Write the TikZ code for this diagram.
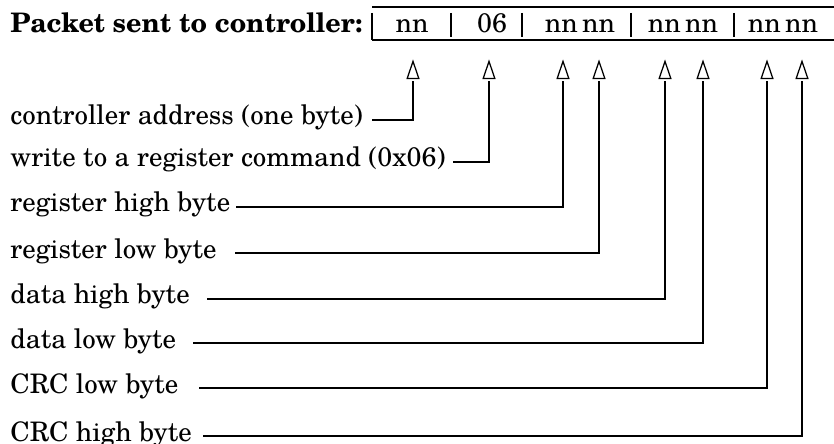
\documentclass[tikz,border=0pt]{standalone}
\usepackage{fontspec}
\setmainfont{TeX Gyre Schola}
\usetikzlibrary{positioning,shapes.geometric}

\begin{document}
\begin{tikzpicture}[
		x=0.48pt, y=-0.48pt,
		lab/.style={anchor=base west, inner sep=0pt, font=\fontsize{12.9}{15}\selectfont},
		fld/.style={anchor=base, inner sep=0pt, font=\fontsize{12.9}{15}\selectfont},
		tip/.style={isosceles triangle, isosceles triangle stretches, shape border rotate=90, draw, line width=0.6pt, inner sep=0pt, outer sep=1.2pt, minimum width=5.6pt, minimum height=8.2pt, anchor=south},
		rule/.style={line width=1.2pt},
		sep/.style={line width=0.6pt},
		lead/.style={line width=0.5pt}
		]
		\useasboundingbox (0,0) rectangle (834,444);
		
		% --------------------------------------------------------------------
		% packet (top)
		% --------------------------------------------------------------------
		\node[lab, font=\fontsize{12.9}{15}\selectfont\bfseries] (title) at (10,33) {Packet sent to controller:};
		
		\draw[rule] (372,7) -- (834,7);
		\draw[rule] (372,40) -- (834,40);
		\draw[sep] (372,13) -- (372,40);
		\draw[sep] (451,13) -- (451,37);
		\draw[sep] (522,13) -- (522,37);
		\draw[sep] (631,13) -- (631,37);
		\draw[sep] (734,13) -- (734,37);
		
		\node[fld] (addr) at (412,33) {nn};
		\node[fld] (cmd) at (492,33) {06};
		\node[fld] (reg) at (580,33) {nn\,nn};
		\node[fld] (dat) at (683,33) {nn\,nn};
		\node[fld] (crc) at (783,33) {nn\,nn};
		
		% markers under the bytes
		\node[tip] (T1) at (413,81) {};
		\node[tip] (T2) at (489,81) {};
		\node[tip] (T3) at (563,81) {};
		\node[tip] (T4) at (599,81) {};
		\node[tip] (T5) at (665,81) {};
		\node[tip] (T6) at (703,81) {};
		\node[tip] (T7) at (767,81) {};
		\node[tip] (T8) at (802,81) {};
		
		% --------------------------------------------------------------------
		% descriptions (bottom)
		% --------------------------------------------------------------------
		\node[lab] (L1) at (10,125) {controller address (one byte)};
		\node[lab] (L2) at (10,167) {write to a register command (0x06)};
		\node[lab] (L3) at (10,212) {register high byte};
		\node[lab] (L4) at (10,258) {register low byte};
		\node[lab] (L5) at (10,304) {data high byte};
		\node[lab] (L6) at (10,348) {data low byte};
		\node[lab] (L7) at (10,393) {CRC low byte};
		\node[lab] (L8) at (10,441) {CRC high byte};
		
		\coordinate (s1) at (372,120);
		\coordinate (s2) at (453,162);
		\coordinate (s3) at (236,207);
		\coordinate (s4) at (235,253);
		\coordinate (s5) at (207,299);
		\coordinate (s6) at (193,343);
		\coordinate (s7) at (199,388);
		\coordinate (s8) at (203,436);
		
		\draw[lead] (s1) -| (T1.south);
		\draw[lead] (s2) -| (T2.south);
		\draw[lead] (s3) -| (T3.south);
		\draw[lead] (s4) -| (T4.south);
		\draw[lead] (s5) -| (T5.south);
		\draw[lead] (s6) -| (T6.south);
		\draw[lead] (s7) -| (T7.south);
		\draw[lead] (s8) -| (T8.south);
		
	\end{tikzpicture}
\end{document}
